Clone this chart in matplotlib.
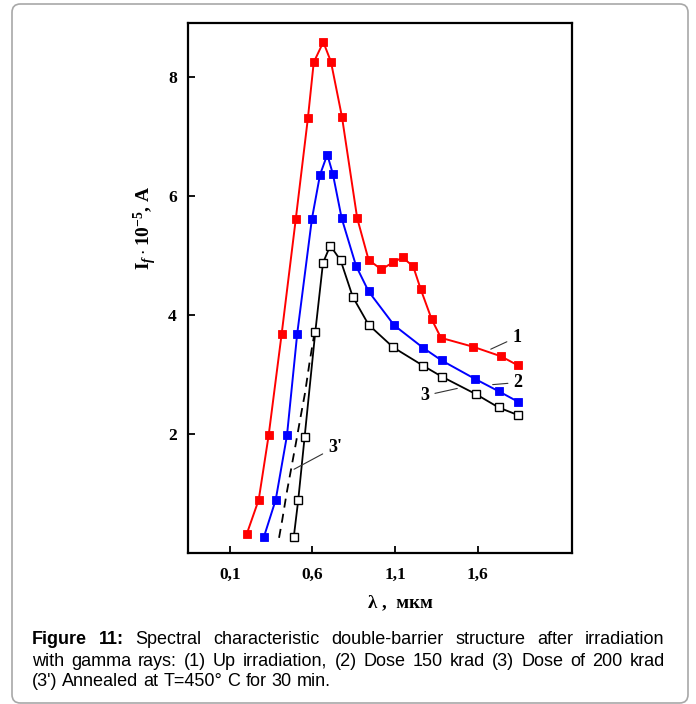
import matplotlib
matplotlib.use("Agg")
import matplotlib.pyplot as plt
from matplotlib.patches import FancyBboxPatch

W, H = 696, 704

# wavelength (mkm) and photocurrent (x1e-5 A)
x1 = [0.202, 0.275, 0.335, 0.414, 0.499, 0.573, 0.608, 0.666, 0.712, 0.779, 0.871,
      0.940, 1.017, 1.089, 1.146, 1.210, 1.255, 1.322, 1.378, 1.573, 1.741, 1.842]
y1 = [0.31, 0.89, 1.97, 3.68, 5.60, 7.31, 8.24, 8.58, 8.25, 7.32, 5.62,
      4.92, 4.76, 4.88, 4.96, 4.81, 4.43, 3.92, 3.61, 3.46, 3.30, 3.15]

x2 = [0.307, 0.378, 0.446, 0.508, 0.597, 0.646, 0.690, 0.724, 0.777, 0.864,
      0.940, 1.095, 1.271, 1.382, 1.584, 1.729, 1.842]
y2 = [0.27, 0.89, 1.97, 3.68, 5.61, 6.35, 6.69, 6.36, 5.62, 4.82,
      4.39, 3.82, 3.44, 3.23, 2.92, 2.71, 2.54]

x3 = [0.487, 0.514, 0.553, 0.617, 0.664, 0.708, 0.771, 0.844, 0.940, 1.089,
      1.271, 1.382, 1.592, 1.727, 1.846]
y3 = [0.26, 0.88, 1.95, 3.70, 4.87, 5.16, 4.91, 4.30, 3.83, 3.45,
      3.14, 2.96, 2.66, 2.44, 2.31]

# 3' (annealed), dashed, no markers
x3a = [0.398, 0.418, 0.444, 0.474, 0.500, 0.525, 0.555, 0.585, 0.610]
y3a = [0.25, 0.56, 1.00, 1.45, 1.84, 2.23, 2.68, 3.24, 3.65]

xticks = [0.1, 0.6, 1.1, 1.6]
xticklabels = ["0,1", "0,6", "1,1", "1,6"]
yticks = [2, 4, 6, 8]

serif = "Liberation Serif"
cap_family = "Liberation Sans"
cap_size = 13

plt.rcParams["mathtext.fontset"] = "custom"
plt.rcParams["mathtext.rm"] = "Liberation Serif:bold"
plt.rcParams["mathtext.it"] = "Liberation Serif:bold:italic"
plt.rcParams["mathtext.bf"] = "Liberation Serif:bold"

fig = plt.figure(figsize=(W / 100, H / 100), dpi=100)
ax = fig.add_axes([188 / W, 1 - 552.7 / H, (572 - 188) / W, (552.7 - 23) / H])

ax.plot(x3a, y3a, color="black", lw=1.3, dashes=(5, 3.5))
ax.plot(x3, y3, color="black", lw=1.3, marker="s", ms=5.5,
        mfc="white", mec="black", mew=1.0)
ax.plot(x2, y2, color="#0000ff", lw=1.4, marker="s", ms=6,
        mfc="#0000ff", mec="#0000ff", mew=0.6)
ax.plot(x1, y1, color="#ff0000", lw=1.4, marker="s", ms=6,
        mfc="#ff0000", mec="#ff0000", mew=0.6)

ax.set_xlim(-0.153, 2.171)
ax.set_ylim(0, 8.9)
ax.set_xticks(xticks)
ax.set_xticklabels(xticklabels)
ax.set_yticks(yticks)
for lab in ax.get_xticklabels() + ax.get_yticklabels():
    lab.set_family(serif)
    lab.set_fontweight("bold")
    lab.set_fontsize(12.5)
ax.tick_params(direction="in", length=5, width=1.3)
ax.tick_params(axis="x", pad=10)
ax.tick_params(axis="y", pad=8)
for sp in ax.spines.values():
    sp.set_linewidth(1.6)

# curve labels with leader lines
leader = dict(arrowstyle="-", color="#333333", lw=0.8)
tkw = dict(family=serif, fontweight="bold", fontsize=13, ha="center", va="center")
ax.annotate("1", xy=(1.664, 3.40), xytext=(1.836, 3.62), arrowprops=leader, **tkw)
ax.annotate("2", xy=(1.674, 2.82), xytext=(1.844, 2.86), arrowprops=leader, **tkw)
ax.annotate("3", xy=(1.493, 2.77), xytext=(1.281, 2.64), arrowprops=leader, **tkw)
ax.annotate("3'", xy=(0.474, 1.38), xytext=(0.736, 1.77), arrowprops=leader, **tkw)

fig.text(145 / W, 1 - 228 / H, r"$\mathrm{I}_{f}\cdot\mathrm{10}^{\mathrm{-5}}$, A",
         rotation=90, ha="center", va="center", family=serif,
         fontweight="bold", fontsize=14)
fig.text(400 / W, 1 - 603 / H, "λ ,  мкм", ha="center", va="center",
         family=serif, fontweight="bold", fontsize=13.5)

# rounded frame around figure + caption
frame = FancyBboxPatch((12 / W, 1 / H), (688 - 12) / W, 699 / H,
                       boxstyle="round,pad=0,rounding_size=0.012",
                       transform=fig.transFigure, fill=False,
                       edgecolor="#a8a8a8", lw=1.2)
fig.patches.append(frame)

# justified caption
renderer = fig.canvas.get_renderer()


def caption_line(words, y, x0=31.7, x1=None):
    objs = []
    for w, weight in words:
        objs.append(fig.text(0, 1 - y / H, w, fontsize=cap_size, fontweight=weight,
                             family=cap_family, ha="left", va="center"))
    widths = [o.get_window_extent(renderer).width for o in objs]
    if x1 is None:
        gap = 0.278 * cap_size * 100 / 72
    else:
        gap = (x1 - x0 - sum(widths)) / (len(objs) - 1)
    x = x0
    for o, wd in zip(objs, widths):
        o.set_x(x / W)
        x += wd + gap


line1 = [("Figure", "bold"), ("11:", "bold")] + [
    (w, "normal") for w in "Spectral characteristic double-barrier structure after irradiation".split()]
line2 = [(w, "normal") for w in
         "with gamma rays: (1) Up irradiation, (2) Dose 150 krad (3) Dose of 200 krad".split()]
line3 = [(w, "normal") for w in "(3') Annealed at T=450° C for 30 min.".split()]

caption_line(line1, 640, x1=664)
caption_line(line2, 661.5, x1=665)
caption_line(line3, 681.5)

fig.savefig("out.png", dpi=100)
